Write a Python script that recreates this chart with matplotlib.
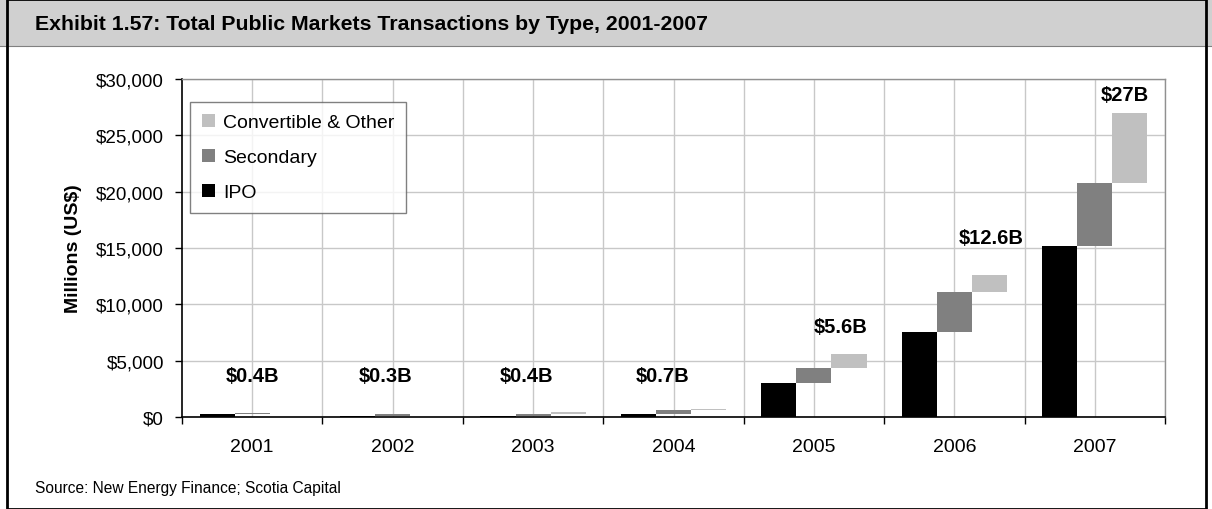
import matplotlib
matplotlib.use("Agg")
import matplotlib.pyplot as plt
from matplotlib.patches import Rectangle
from matplotlib.ticker import FuncFormatter, FixedLocator
import numpy as np

plt.rcParams['font.family'] = ['Liberation Sans', 'DejaVu Sans']

years = ["2001", "2002", "2003", "2004", "2005", "2006", "2007"]
ipo = [290, 100, 100, 270, 3000, 7570, 15150]
secondary = [40, 170, 170, 350, 1350, 3550, 5650]
convertible = [30, 30, 130, 80, 1200, 1500, 6200]
total_labels = ["$0.4B", "$0.3B", "$0.4B", "$0.7B", "$5.6B", "$12.6B", "$27B"]
label_y = [3650, 3650, 3650, 3650, 8000, 15900, 28600]
label_dx = [0.0, -0.05, -0.05, -0.08, 0.19, 0.26, 0.21]

series_names = ["IPO", "Secondary", "Convertible & Other"]
colors = ["#000000", "#808080", "#c0c0c0"]

fig = plt.figure(figsize=(12.12, 5.10), dpi=100)
W, H = 1212, 510

# header band and border
fig.patches.append(Rectangle((0, 1 - 47 / H), 1, 47 / H, transform=fig.transFigure,
                             facecolor="#d0d0d0", edgecolor="none", zorder=0))
fig.lines.append(plt.Line2D([0, 1], [1 - 47 / H, 1 - 47 / H], transform=fig.transFigure,
                            color="#808080", lw=0.8))
fig.patches.append(Rectangle((7 / W, 0), 1 - 13 / W, 1, transform=fig.transFigure,
                             facecolor="none", edgecolor="black", lw=2, zorder=5))
fig.text(35 / W, 1 - 24 / H, "Exhibit 1.57: Total Public Markets Transactions by Type, 2001-2007",
         fontsize=15.3, fontweight="bold", va="center", ha="left")
fig.text(35 / W, 1 - 489 / H, "Source: New Energy Finance; Scotia Capital",
         fontsize=11.2, va="center", ha="left")

ax = fig.add_axes([182 / W, 1 - 418 / H, (1165 - 182) / W, (418 - 80) / H])

x = np.arange(len(years))
w = 0.25
ipo_a = np.array(ipo)
sec_a = np.array(secondary)
conv_a = np.array(convertible)
b1 = ax.bar(x - w, ipo_a, width=w, color=colors[0], zorder=3)
b2 = ax.bar(x, sec_a, width=w, bottom=ipo_a, color=colors[1], zorder=3)
b3 = ax.bar(x + w, conv_a, width=w, bottom=ipo_a + sec_a, color=colors[2], zorder=3)

for i, (lab, ly, dx) in enumerate(zip(total_labels, label_y, label_dx)):
    ax.text(i + dx, ly, lab, ha="center", va="center", fontsize=14.5, fontweight="bold", zorder=4)

ax.set_xlim(-0.5, len(years) - 0.5)
ax.set_ylim(0, 30000)
ax.set_yticks(np.arange(0, 30001, 5000))
ax.yaxis.set_major_formatter(FuncFormatter(lambda v, p: "${:,.0f}".format(v)))
ax.set_xticks(x)
ax.set_xticklabels(years)
ax.xaxis.set_minor_locator(FixedLocator(np.arange(-0.5, len(years), 1.0)))
ax.tick_params(axis="x", which="major", length=0, labelsize=14, pad=15)
ax.tick_params(axis="x", which="minor", length=5, width=1, direction="out")
ax.tick_params(axis="y", length=5, width=1, direction="out", labelsize=13.5, pad=8)

ax.grid(True, axis="y", color="#c8c8c8", lw=1, zorder=0)
for gx in np.arange(0, len(years), 0.5):
    ax.axvline(gx, color="#c8c8c8", lw=1, zorder=0)

for s in ["left", "bottom"]:
    ax.spines[s].set_color("black")
    ax.spines[s].set_linewidth(1.2)
for s in ["top", "right"]:
    ax.spines[s].set_color("#909090")
    ax.spines[s].set_linewidth(1)

ax.set_ylabel("Millions (US$)", fontsize=14, fontweight="bold", labelpad=10)

leg = ax.legend([b3, b2, b1], series_names[::-1], loc="upper left",
                bbox_to_anchor=(0.008, 0.932), frameon=True, fancybox=False,
                edgecolor="#606060", fontsize=14, handlelength=0.7, handleheight=0.7,
                labelspacing=0.9, handletextpad=0.4, borderpad=0.6, borderaxespad=0)
leg.get_frame().set_linewidth(1)

fig.savefig("out.png", dpi=100)
